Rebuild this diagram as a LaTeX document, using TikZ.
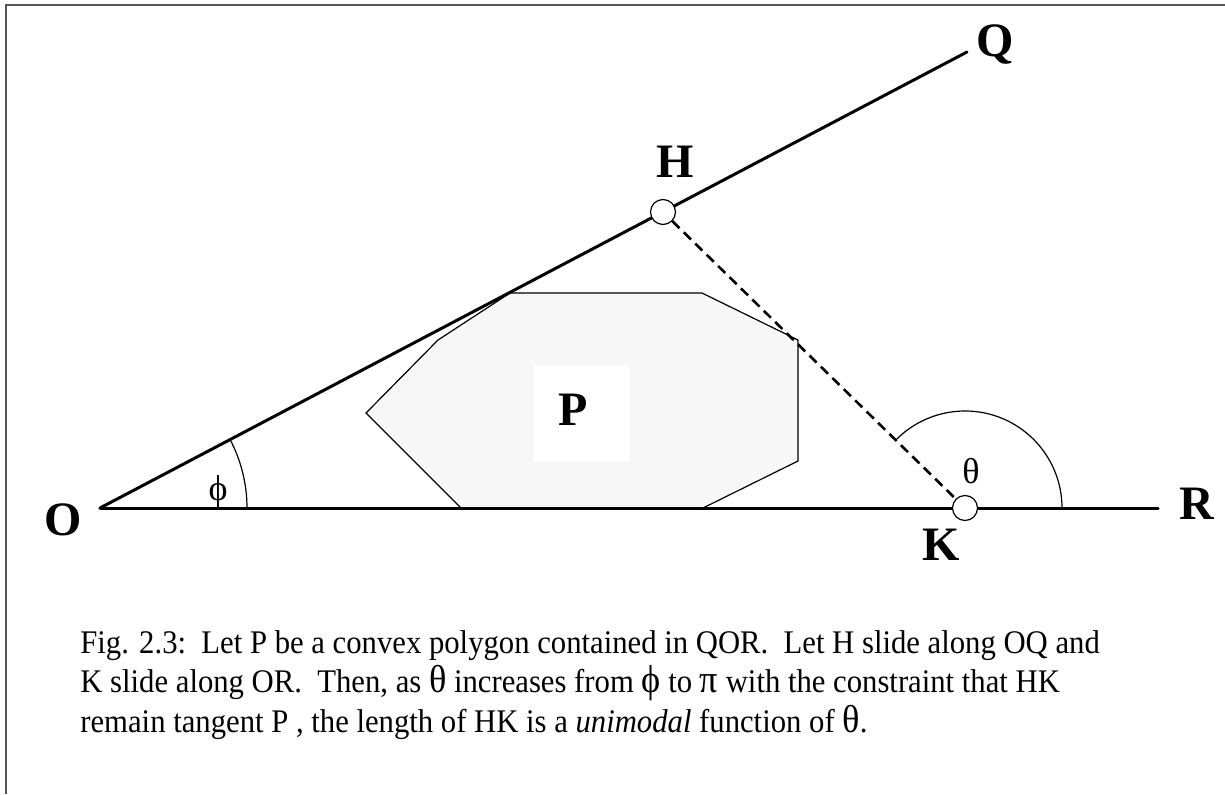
\documentclass[tikz,border=0pt]{standalone}
\usepackage{fontspec}
\setmainfont{Liberation Serif}
\newfontfamily\capfamily{Liberation Serif}[FakeStretch=0.93]
\usepackage{tikz}
\usetikzlibrary{calc}
\definecolor{frameGray}{HTML}{555555}
\definecolor{polyFill}{HTML}{F7F7F7}
\newcommand{\capfont}{\capfamily\fontsize{16.5}{20}\selectfont}
\newcommand{\gk}[1]{{\fontsize{19.5}{20}\selectfont #1}}

\begin{document}
\begin{tikzpicture}[x=0.5pt, y=0.5pt, ray/.style={line width=1.5pt, line cap=round}, frm/.style={line width=1pt, color=frameGray}, slider/.style={circle, draw, fill=white, line width=0.6pt, minimum size=12.5pt, inner sep=0pt}, ptlbl/.style={font=\fontsize{24}{28}\selectfont\bfseries}, anglbl/.style={font=\fontsize{18}{21}\selectfont}, caption/.style={anchor=base west, inner sep=0pt, font=\capfont}]
\useasboundingbox (0,0) rectangle (1225,794);
\draw[frm] (6,0) -- (6,789) -- (1225,789);
% the two rays and the sliding points
\coordinate (O) at (100,286); \coordinate (Qend) at (967,742); \coordinate (Rend) at (1158,286);
\coordinate (Hpos) at (663,582); \coordinate (Kpos) at (965,286);
% convex polygon P
\draw[fill=polyFill, line width=0.6pt] (510,501) -- (702,501) -- (798,454) -- (798,333) -- (703,286) -- (461,286) -- (366,381) -- (438,454) -- cycle;
\fill[white] (534,333) rectangle (630,429);
\node[ptlbl] (P) at (573,384) {P};
\draw[ray] (O) -- (Qend); \draw[ray] (O) -- (Rend);
\draw[line width=0.6pt] ($(O)+(147,0)$) arc[start angle=0, end angle=27.75, radius=147];
\draw[line width=0.6pt] ($(Kpos)+(97,0)$) arc[start angle=0, end angle=135.6, radius=97];
\node[slider] (H) at (Hpos) {}; \node[slider] (K) at (Kpos) {};
\draw[line width=1.3pt, dash pattern=on 5pt off 3pt] (H) -- (K);
\node[ptlbl] (Olbl) at (63,274) {O}; \node[ptlbl] (Qlbl) at (995,749) {Q}; \node[ptlbl] (Rlbl) at (1197,290) {R};
\node[ptlbl] (Hlbl) at (675,632) {H}; \node[ptlbl] (Klbl) at (941,249) {K};
\node[anglbl] (phi) at (218,302) {ϕ}; \node[anglbl] (theta) at (971,323) {θ};
% caption
\node[caption] (cap1) at (80,141) {Fig. 2.3:\ \ Let P be a convex polygon contained in QOR.\ \ Let H slide along OQ and};
\node[caption] (cap2) at (80,102) {K slide along OR.\ \ Then, as \gk{θ} increases from \gk{ϕ} to \gk{π} with the constraint that HK};
\node[caption] (cap3) at (80,62) {remain tangent P , the length of HK is a \textit{unimodal} function of \gk{θ}.};
\end{tikzpicture}
\end{document}
